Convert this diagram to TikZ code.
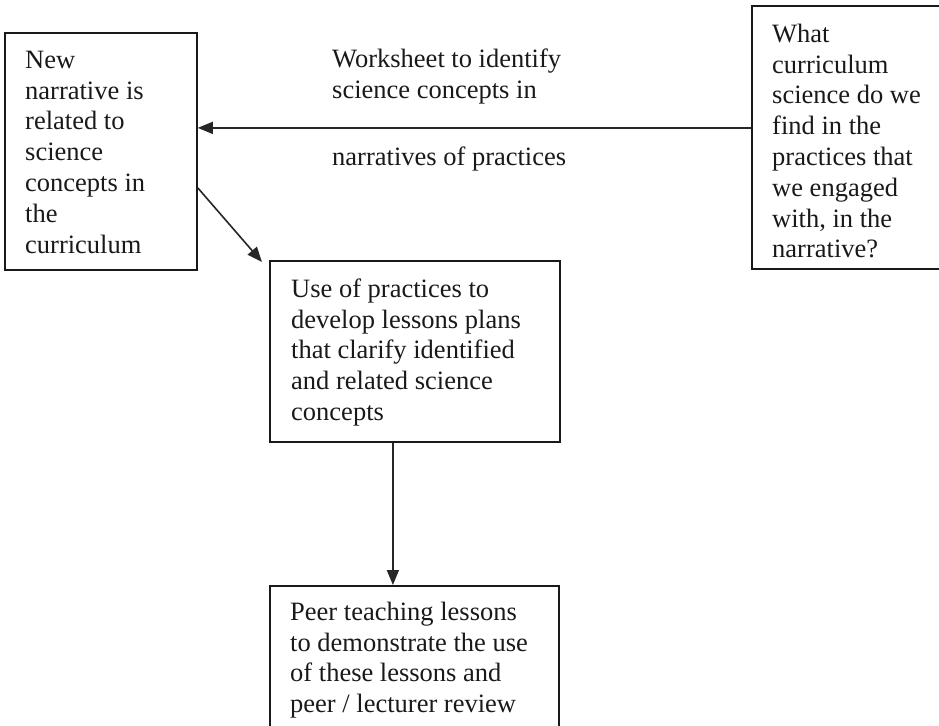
\documentclass[tikz,border=0pt]{standalone}
\usepackage{fontspec}
\setmainfont{Liberation Serif}
\usetikzlibrary{arrows.meta,calc}
\begin{document}
\begin{tikzpicture}[x=1pt,y=-1pt,
  boxframe/.style={draw=black!90,line width=1.8pt,rectangle,inner sep=0pt,anchor=north west},
  txt/.style={anchor=north west,inner sep=0pt,align=left,font=\fontsize{26.5}{30.8}\selectfont,text=black!90},
  arr/.style={draw=black!85,line width=1.6pt,-{Triangle[length=15pt,width=12pt]}}]
\useasboundingbox (0,0) rectangle (939,725);
% boxes
\node[boxframe,minimum width=192pt,minimum height=237pt] (b1) at (4,32) {};
\node[boxframe,minimum width=220pt,minimum height=263pt] (b2) at (751,5) {};
\node[boxframe,minimum width=290pt,minimum height=181pt] (b3) at (269,260) {};
\node[boxframe,minimum width=289pt,minimum height=180pt] (b4) at (269,585) {};
% texts
\node[txt] (t1) at ($(b1.north west)+(21,16)$) {\rule{0pt}{20pt}New\\narrative is\\related to\\science\\concepts in\\the\\curriculum};
\node[txt] (t2) at ($(b2.north west)+(21,17)$) {\rule{0pt}{20pt}What\\curriculum\\science do we\\find in the\\practices that\\we engaged\\with, in the\\narrative?};
\node[txt] (t3) at ($(b3.north west)+(22,17)$) {\rule{0pt}{20pt}Use of practices to\\develop lessons plans\\that clarify identified\\and related science\\concepts};
\node[txt] (t4) at ($(b4.north west)+(21,15)$) {\rule{0pt}{20pt}Peer teaching lessons\\to demonstrate the use\\of these lessons and\\peer / lecturer review};
% labels
\node[txt] (l1) at (332,47) {\rule{0pt}{20pt}Worksheet to identify\\science concepts in};
\node[txt] (l2) at (332,145) {\rule{0pt}{20pt}narratives of practices};
% connectors
\coordinate (h1) at ([yshift=9.5pt]b2.west);
\draw[arr] (h1) -- (h1 -| b1.east);
\coordinate (d1) at ([yshift=-36.5pt]b1.east);
\coordinate (d2) at ($(b3.north west)+(-7,2)$);
\draw[arr] (d1) -- (d2);
\coordinate (v1) at ([xshift=-22pt]b3.south);
\draw[arr] (v1) -- (v1 |- b4.north);
\end{tikzpicture}
\end{document}
